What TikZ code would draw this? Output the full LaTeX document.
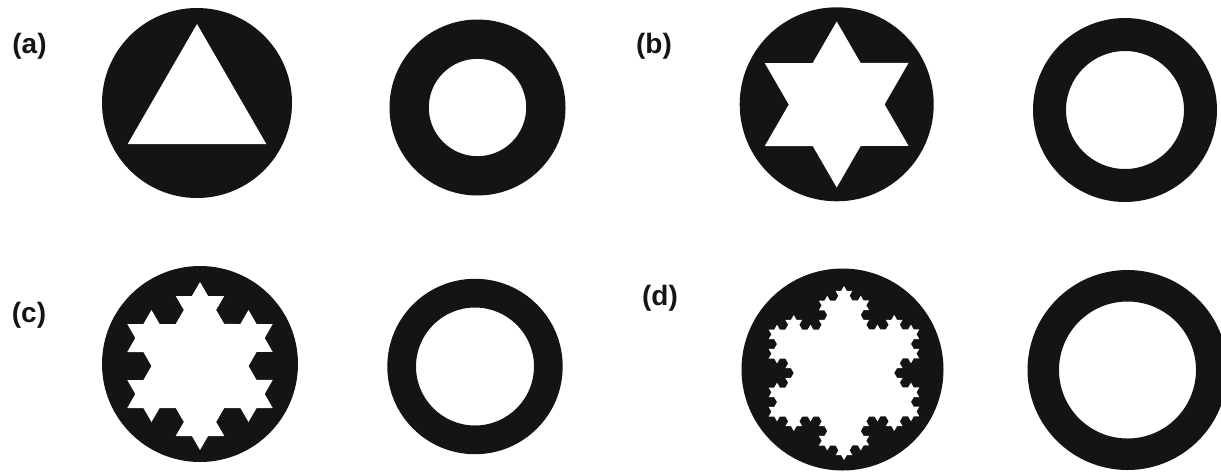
\documentclass[tikz,border=0pt]{standalone}
\usepackage{fontspec}
\setmainfont{Liberation Sans}
\usetikzlibrary{decorations.fractals}
\definecolor{ink}{HTML}{131414}
\tikzset{
  lbl/.style={font=\bfseries\fontsize{14}{16}\selectfont, text=ink, inner sep=0pt},
  disc/.style={fill=ink},
  hole/.style={fill=white},
  ring/.style={fill=ink, even odd rule},
  koch/.style={fill=white, decoration=Koch snowflake},
}
\begin{document}
\begin{tikzpicture}[x=0.5pt,y=-0.5pt]
\useasboundingbox (0,0) rectangle (1221,472);
\clip (0,0) rectangle (1221,472);
% labels
\node[lbl] (la) at (29.5,46) {(a)};
\node[lbl] (lb) at (654,46) {(b)};
\node[lbl] (lc) at (29,315) {(c)};
\node[lbl] (ld) at (660,298) {(d)};
% (a)
\fill[disc] (197,103) circle[radius=95];
\fill[hole] (197,24) -- (266.28,144) -- (127.72,144) -- cycle;
\fill[ring] (477.5,107.5) circle[radius=88] (477.5,107.5) circle[radius=48.7];
% (b)
\fill[disc] (836.7,104.3) circle[radius=97];
\fill[koch] decorate{(836.7,21.5) -- (908.58,146) -- (764.82,146) -- (836.7,21.5)};
\fill[ring] (1125,110) circle[radius=92] (1125,110) circle[radius=59];
% (c)
\fill[disc] (200,364) circle[radius=98];
\fill[koch] decorate{decorate{(200,282) -- (272.75,408) -- (127.25,408) -- (200,282)}};
\fill[ring] (475,366.5) circle[radius=87.7] (475,366.5) circle[radius=59];
% (d)
\fill[disc] (842.5,369.5) circle[radius=101];
\fill[koch] decorate{decorate{decorate{(844,286) -- (919.34,416.5) -- (768.66,416.5) -- (844,286)}}};
\fill[ring] (1127.5,370) circle[radius=100] (1127.5,370) circle[radius=68.5];
\end{tikzpicture}
\end{document}
